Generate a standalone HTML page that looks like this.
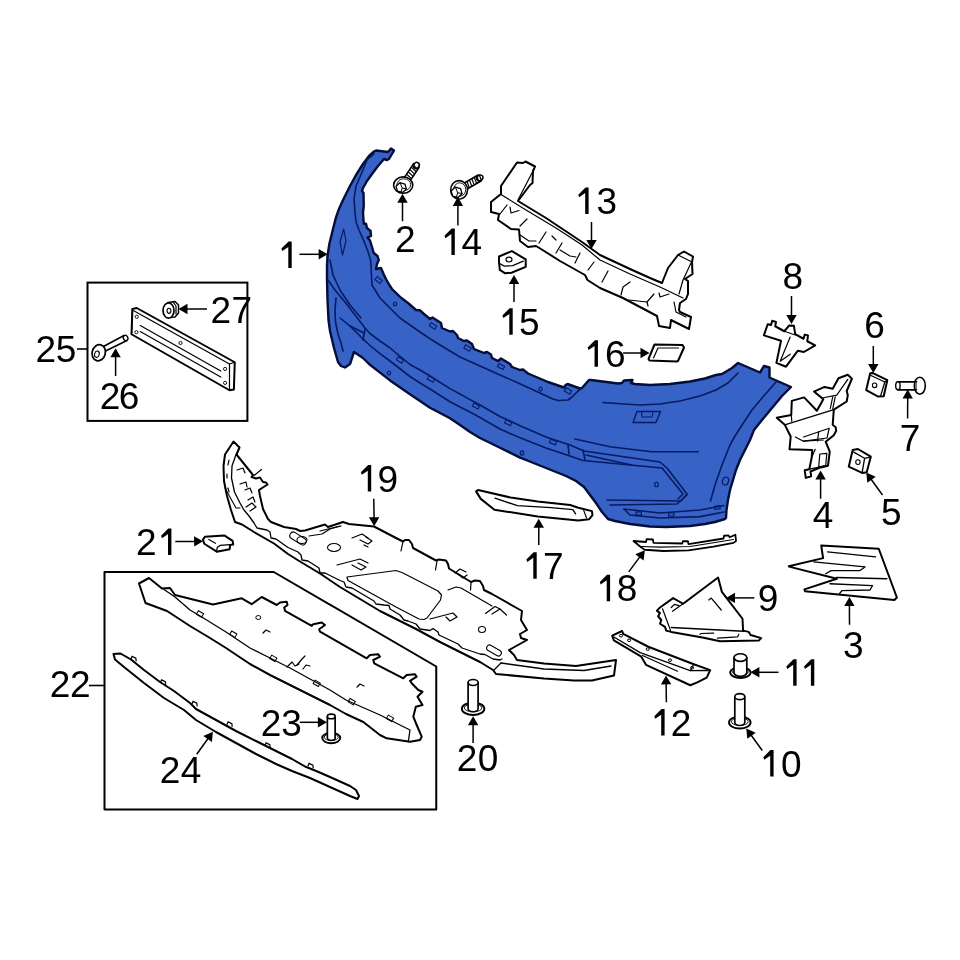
<!DOCTYPE html>
<html><head><meta charset="utf-8"><style>
html,body{margin:0;padding:0;background:#fff;}
svg{display:block;}
</style></head><body>
<svg width="960" height="960" viewBox="0 0 960 960">
<rect width="960" height="960" fill="#fff"/>
<polygon points="345,367.5 341,366 338,362 334,348 330,331 328.5,320 327.5,300 327,280 327,265 327.5,256 329.4,243.75 332.5,231 335.6,218.75 338.75,209.4 343,200 350,186 356,175 363,164 369,156 374,151.5 376,150.5 388,152 391,148.5 394,150.5 389,159 387,160 384,159 378,166 372,174 367,181 363,188 362,191 363.5,193 363.75,206 363,212.5 363.75,223.75 366,223.75 367,228 370.6,231 371,236 367.5,237.5 370,240.6 372,247 373.75,253 377.5,256 378.75,260 377,264 376,269 381,268 384,275 386.5,280 390,286 392,289 400,296.9 408,303 416,310 420,310.3 424,314 430,319 432.5,317.5 441,323 442,328 450,331.5 453,331 457,335 458,338 464,341 467,340.5 472,344 474,349 484,353 487,352 491,354.5 492,358 498,361 501,358.5 510,364 512,367 520,370 523,369.5 528,373.5 548,382 564,387.5 565.5,385 567.5,384 580,388.5 582,388 589,380 591,380 618,383.5 622,383 624,380.5 632.5,380 631,383 635,384 650,385 670,384 690,381.5 705,378.5 716,375 722,374 732,368 738,363 760,372.5 764,366 769.5,367.5 769.5,377.5 791,387 782,396 772,408 762,420 754,430 750,440 745,450 740,460 736,470 733,480 730,490 728,500 726.5,510 726,518 725,519 715,522 705,524 690,526 666,527 650,526.5 630,524 615,521 608,519 602,512 596,503 590,495 584,487 576,481 566,476 546,468 526,460 520,457.6 510,452.7 500,447.7 480,438 470,431.9 460,425 450,418.3 430,407.7 420,401 410,394.2 390,380.4 380,372.6 370,364.8 363,358 354,352 352,358 350,364" fill="#3762c6" stroke="#040e38" stroke-width="2.4" stroke-linejoin="round"/>
<polyline points="374,154 367,160 360,177 356,186 354,199 355,212.5 356,222 359.4,231 363.75,240.6 367.5,250 370.6,260 372,285 380,298 390,308 400,318 420,332 430,338.75 440,345 450,351 460,357 480,366 500,375 516,382 528,387.5 553,399 558,400.5 568,400 572,397 578,391 582,388" fill="none" stroke="#081b62" stroke-width="1.6" stroke-linejoin="round" stroke-linecap="round" />
<polyline points="330,260 333,275 340,290 350,305 361,318" fill="none" stroke="#081b62" stroke-width="1.6" stroke-linejoin="round" stroke-linecap="round" />
<polyline points="328,280 335,290 345,302 355,315 365,328 370,333.5 380,341 390,348 410,364.5 420,370 430,376 450,388.6 460,394 470,399.6 480,405 500,416.5 510,421 520,425.8 546,437 570,445 584,451 660,462 667,468 687,494 681,501 607,500" fill="none" stroke="#081b62" stroke-width="1.6" stroke-linejoin="round" stroke-linecap="round" />
<polyline points="336,298 335,310 335.5,322 338,334 341,343 343,351" fill="none" stroke="#081b62" stroke-width="1.6" stroke-linejoin="round" stroke-linecap="round" />
<polyline points="340,318 350,326 363,339 370,345.5 380,353.6 390,361 410,376.5 420,383 430,389 450,401.7 460,407 470,412 480,417.5 500,429 510,433.4 520,437.8 546,448 570,456 583,460.5 630,465 662,468 683,494 678,499" fill="none" stroke="#081b62" stroke-width="1.6" stroke-linejoin="round" stroke-linecap="round" />
<polyline points="350,326 364,333" fill="none" stroke="#081b62" stroke-width="1.6" stroke-linejoin="round" stroke-linecap="round" />
<polyline points="365,329 363,340" fill="none" stroke="#081b62" stroke-width="1.6" stroke-linejoin="round" stroke-linecap="round" />
<polyline points="575,439 602,445 610,446.7 651.7,451.7 698.3,451.7" fill="none" stroke="#081b62" stroke-width="1.6" stroke-linejoin="round" stroke-linecap="round" />
<polyline points="568,445 569,454" fill="none" stroke="#081b62" stroke-width="1.6" stroke-linejoin="round" stroke-linecap="round" />
<polyline points="583,450 585,460" fill="none" stroke="#081b62" stroke-width="1.6" stroke-linejoin="round" stroke-linecap="round" />
<polyline points="586,455 631.7,465" fill="none" stroke="#081b62" stroke-width="1.6" stroke-linejoin="round" stroke-linecap="round" />
<polyline points="603,402.5 624,404 640,405 660,404 680,401 700,396 716,390 728,383 738,373" fill="none" stroke="#081b62" stroke-width="1.6" stroke-linejoin="round" stroke-linecap="round" />
<polyline points="776,382 762,398 752,410 742,425 735,436 730,445 722,465 715,485 710.5,501" fill="none" stroke="#081b62" stroke-width="1.6" stroke-linejoin="round" stroke-linecap="round" />
<polyline points="610,505 677,504 687,495" fill="none" stroke="#081b62" stroke-width="1.6" stroke-linejoin="round" stroke-linecap="round" />
<polyline points="624,509 660,513 700,510 724,505.5" fill="none" stroke="#081b62" stroke-width="1.6" stroke-linejoin="round" stroke-linecap="round" />
<polyline points="624,509 630,515 660,518 700,516.6 724,512" fill="none" stroke="#081b62" stroke-width="1.6" stroke-linejoin="round" stroke-linecap="round" />
<rect x="636.15" y="511.9" width="5.2" height="3.2" transform="rotate(0 638.75 513.5)" fill="none" stroke="#081b62" stroke-width="1.2"/>
<rect x="668.65" y="512.9" width="5.2" height="3.2" transform="rotate(0 671.25 514.5)" fill="none" stroke="#081b62" stroke-width="1.2"/>
<rect x="714.9" y="505.9" width="5.2" height="3.2" transform="rotate(-8 717.5 507.5)" fill="none" stroke="#081b62" stroke-width="1.2"/>
<polygon points="343.7,229 346,241 342.5,255 340,242" fill="none" stroke="#081b62" stroke-width="1.2" stroke-linejoin="round" />
<polygon points="637,411.5 660.5,411.5 656,422.5 633,422.5" fill="none" stroke="#081b62" stroke-width="1.4" stroke-linejoin="round" />
<polyline points="641.5,412 642,417 652,417 653,412" fill="none" stroke="#081b62" stroke-width="1.1" stroke-linejoin="round" stroke-linecap="round" />
<ellipse cx="395" cy="304" rx="1.6" ry="2.0" fill="none" stroke="#081b62" stroke-width="1.2"/>
<ellipse cx="540.5" cy="389" rx="1.6" ry="2.0" fill="none" stroke="#081b62" stroke-width="1.2"/>
<ellipse cx="389" cy="373" rx="1.6" ry="2.0" fill="none" stroke="#081b62" stroke-width="1.2"/>
<ellipse cx="522" cy="453" rx="1.7" ry="2.125" fill="none" stroke="#081b62" stroke-width="1.2"/>
<ellipse cx="656.5" cy="484.5" rx="1.8" ry="2.25" fill="none" stroke="#081b62" stroke-width="1.2"/>
<ellipse cx="725.5" cy="481" rx="3" ry="4" transform="rotate(15 725.5 481)" fill="none" stroke="#081b62" stroke-width="1.2"/>
<rect x="375.3" y="278.2" width="6.4" height="3.6" transform="rotate(40 378.5 280)" fill="none" stroke="#081b62" stroke-width="1.1"/>
<rect x="429.8" y="324.2" width="6.4" height="3.6" transform="rotate(32 433 326)" fill="none" stroke="#081b62" stroke-width="1.1"/>
<rect x="464.3" y="346.2" width="6.4" height="3.6" transform="rotate(30 467.5 348)" fill="none" stroke="#081b62" stroke-width="1.1"/>
<rect x="497.8" y="364.7" width="6.4" height="3.6" transform="rotate(28 501 366.5)" fill="none" stroke="#081b62" stroke-width="1.1"/>
<rect x="564.8" y="389.2" width="6.4" height="3.6" transform="rotate(30 568 391)" fill="none" stroke="#081b62" stroke-width="1.1"/>
<rect x="396.8" y="358.2" width="6.4" height="3.6" transform="rotate(32 400 360)" fill="none" stroke="#081b62" stroke-width="1.1"/>
<rect x="427.8" y="377.2" width="6.4" height="3.6" transform="rotate(30 431 379)" fill="none" stroke="#081b62" stroke-width="1.1"/>
<rect x="472.8" y="404.2" width="6.4" height="3.6" transform="rotate(28 476 406)" fill="none" stroke="#081b62" stroke-width="1.1"/>
<rect x="505.1" y="420.9" width="6.4" height="3.6" transform="rotate(25 508.3 422.7)" fill="none" stroke="#081b62" stroke-width="1.1"/>
<rect x="549.8" y="440.2" width="6.4" height="3.6" transform="rotate(20 553 442)" fill="none" stroke="#081b62" stroke-width="1.1"/>
<polygon points="501,186 517,162.5 523,163 525.5,161.5 535,166.5 533,171 532.5,183 530,185 518,201 546,218 582,242 600,255 630,269 650,278 662,283 668,268 678,255 684,251.5 693,256.5 692,262 692.5,274 685,279 688,281 688,294 686,299 680,303 679,310 680,312 691,317 689,329 671,320 670,328 659,326 657,316 623,298 600,288 587.5,280 585,275 560,261 541,249 536,246 528,247 520,241 519,229.5 511,229 498,220 499,214 491,212 491,202 501,194" fill="#fff" stroke="#000" stroke-width="2.0" stroke-linejoin="round" />
<polyline points="501,194.5 526,210 556,228 582,245 600,260 630,274 660,287 683,298" fill="none" stroke="#000" stroke-width="1.2" stroke-linejoin="round" stroke-linecap="round" />
<polyline points="534,169 518,200" fill="none" stroke="#000" stroke-width="1.2" stroke-linejoin="round" stroke-linecap="round" />
<polyline points="678,255 692,262" fill="none" stroke="#000" stroke-width="1.2" stroke-linejoin="round" stroke-linecap="round" />
<polyline points="691,263 683,280 679,294" fill="none" stroke="#000" stroke-width="1.2" stroke-linejoin="round" stroke-linecap="round" />
<polyline points="500,214 507,205" fill="none" stroke="#000" stroke-width="1.2" stroke-linejoin="round" stroke-linecap="round" />
<polyline points="510,207 511,213 519,210.5" fill="none" stroke="#000" stroke-width="1.2" stroke-linejoin="round" stroke-linecap="round" />
<polyline points="520,226 527,219" fill="none" stroke="#000" stroke-width="1.2" stroke-linejoin="round" stroke-linecap="round" />
<polyline points="539,243 546,232" fill="none" stroke="#000" stroke-width="1.2" stroke-linejoin="round" stroke-linecap="round" />
<polyline points="520,235 529,241 536,241" fill="none" stroke="#000" stroke-width="1.2" stroke-linejoin="round" stroke-linecap="round" />
<polyline points="602,282 608,271" fill="none" stroke="#000" stroke-width="1.2" stroke-linejoin="round" stroke-linecap="round" />
<polyline points="621,295 623,287 630,282" fill="none" stroke="#000" stroke-width="1.2" stroke-linejoin="round" stroke-linecap="round" />
<polyline points="629,300 647,302 648,306" fill="none" stroke="#000" stroke-width="1.2" stroke-linejoin="round" stroke-linecap="round" />
<polyline points="647,302 654,294" fill="none" stroke="#000" stroke-width="1.2" stroke-linejoin="round" stroke-linecap="round" />
<polyline points="659,293 660,297 669,294" fill="none" stroke="#000" stroke-width="1.2" stroke-linejoin="round" stroke-linecap="round" />
<polyline points="674,302 676,312 686,317" fill="none" stroke="#000" stroke-width="1.2" stroke-linejoin="round" stroke-linecap="round" />
<polyline points="556,253 562,243" fill="none" stroke="#000" stroke-width="1.2" stroke-linejoin="round" stroke-linecap="round" />
<polyline points="575,263 580,253" fill="none" stroke="#000" stroke-width="1.2" stroke-linejoin="round" stroke-linecap="round" />
<polyline points="560,250 570,256 576,257" fill="none" stroke="#000" stroke-width="1.2" stroke-linejoin="round" stroke-linecap="round" />
<polyline points="588,270 594,262" fill="none" stroke="#000" stroke-width="1.2" stroke-linejoin="round" stroke-linecap="round" />
<polyline points="552,236 556,240" fill="none" stroke="#000" stroke-width="1.2" stroke-linejoin="round" stroke-linecap="round" />
<polygon points="499,256.5 511.9,251.1 525.7,259.4 525.7,266.9 511.5,272.75 504.8,273.2 499.8,269.8 499,261.5" fill="#fff" stroke="#000" stroke-width="2.0" stroke-linejoin="round" />
<polyline points="499,263.2 504.4,266.1 512.75,265.7 523.2,261.1" fill="none" stroke="#000" stroke-width="1.3" stroke-linejoin="round" stroke-linecap="round" />
<ellipse cx="509" cy="259.6" rx="3" ry="2.4" fill="none" stroke="#000" stroke-width="1.2"/>
<polygon points="654.5,344.5 682.5,345 684,347.5 678,361 676.5,361.5 649.5,360.5 648.5,359" fill="#fff" stroke="#000" stroke-width="2.0" stroke-linejoin="round" />
<polyline points="653.5,358 658,348 678.5,348" fill="none" stroke="#000" stroke-width="1.2" stroke-linejoin="round" stroke-linecap="round" />
<polygon points="408.73,182.796 419.137,167.343 413.663,163.657 403.256,179.109" fill="#fff" stroke="#000" stroke-width="1.6" stroke-linejoin="round" />
<ellipse cx="416.40" cy="165.50" rx="3.30" ry="2.64" transform="rotate(-56.0 416.40 165.50)" fill="#fff" stroke="#000" stroke-width="1.5"/>
<polyline points="411.249,178.465 406.881,174.317" fill="none" stroke="#000" stroke-width="1.2" stroke-linejoin="round" stroke-linecap="round" />
<polyline points="412.814,176.142 408.445,171.995" fill="none" stroke="#000" stroke-width="1.2" stroke-linejoin="round" stroke-linecap="round" />
<polyline points="414.378,173.82 410.009,169.672" fill="none" stroke="#000" stroke-width="1.2" stroke-linejoin="round" stroke-linecap="round" />
<polyline points="415.942,171.497 411.573,167.35" fill="none" stroke="#000" stroke-width="1.2" stroke-linejoin="round" stroke-linecap="round" />
<polyline points="417.506,169.175 413.138,165.027" fill="none" stroke="#000" stroke-width="1.2" stroke-linejoin="round" stroke-linecap="round" />
<ellipse cx="403.2" cy="185.1" rx="9.6" ry="8.2" fill="#fff" stroke="#000" stroke-width="1.6"/>
<ellipse cx="403.8" cy="184.7" rx="6.912" ry="5.903999999999999" fill="none" stroke="#000" stroke-width="0.9"/>
<polygon points="406.319,188.903 402.572,192.463 397.452,191.16 396.081,186.297 399.828,182.737 404.948,184.04" fill="#fff" stroke="#000" stroke-width="1.3" stroke-linejoin="round" />
<polyline points="400.14,182.83 402.26,188.13 406.235,188.66" fill="none" stroke="#000" stroke-width="1.0" stroke-linejoin="round" stroke-linecap="round" />
<polyline points="402.26,188.13 400.67,192.635" fill="none" stroke="#000" stroke-width="1.0" stroke-linejoin="round" stroke-linecap="round" />
<polygon points="465.081,190.241 481.408,180.753 478.092,175.047 461.765,184.535" fill="#fff" stroke="#000" stroke-width="1.6" stroke-linejoin="round" />
<ellipse cx="479.75" cy="177.90" rx="3.30" ry="2.64" transform="rotate(-30.2 479.75 177.90)" fill="#fff" stroke="#000" stroke-width="1.5"/>
<polyline points="469.238,187.444 467.118,181.805" fill="none" stroke="#000" stroke-width="1.2" stroke-linejoin="round" stroke-linecap="round" />
<polyline points="471.659,186.037 469.539,180.398" fill="none" stroke="#000" stroke-width="1.2" stroke-linejoin="round" stroke-linecap="round" />
<polyline points="474.08,184.63 471.96,178.992" fill="none" stroke="#000" stroke-width="1.2" stroke-linejoin="round" stroke-linecap="round" />
<polyline points="476.501,183.223 474.381,177.585" fill="none" stroke="#000" stroke-width="1.2" stroke-linejoin="round" stroke-linecap="round" />
<polyline points="478.922,181.816 476.802,176.178" fill="none" stroke="#000" stroke-width="1.2" stroke-linejoin="round" stroke-linecap="round" />
<polyline points="481.343,180.409 479.223,174.771" fill="none" stroke="#000" stroke-width="1.2" stroke-linejoin="round" stroke-linecap="round" />
<ellipse cx="459.1" cy="189.9" rx="8.4" ry="9.3" fill="#fff" stroke="#000" stroke-width="1.6"/>
<ellipse cx="459.70000000000005" cy="189.5" rx="6.048" ry="6.696000000000001" fill="none" stroke="#000" stroke-width="0.9"/>
<polygon points="462.009,193.677 458.049,197.439 452.64,196.062 451.191,190.923 455.151,187.161 460.56,188.538" fill="#fff" stroke="#000" stroke-width="1.3" stroke-linejoin="round" />
<polyline points="455.48,187.26 457.72,192.86 461.92,193.42" fill="none" stroke="#000" stroke-width="1.0" stroke-linejoin="round" stroke-linecap="round" />
<polyline points="457.72,192.86 456.04,197.62" fill="none" stroke="#000" stroke-width="1.0" stroke-linejoin="round" stroke-linecap="round" />
<polygon points="763.9,335.4 767.7,324.2 771,325 772.25,320.8 776,322 775.2,326.25 784.3,331.25 789.3,325.4 793.9,325.8 795.2,334.2 803.5,338.75 804.75,334.6 808,335.4 807.25,341.25 815.2,345.4 803.9,352 797.7,350.8 786,366.7 776.4,362.9 781,340.8" fill="#fff" stroke="#000" stroke-width="2.0" stroke-linejoin="round" />
<polyline points="784.3,331.25 795.2,335" fill="none" stroke="#000" stroke-width="1.2" stroke-linejoin="round" stroke-linecap="round" />
<polyline points="790.2,337 780.2,361.25 790.2,354.2" fill="none" stroke="#000" stroke-width="1.2" stroke-linejoin="round" stroke-linecap="round" />
<polygon points="870.2,373.3 872.4,372.9 887.3,380.2 883.7,396.3 878.2,396.6 866.2,390.1" fill="#fff" stroke="#000" stroke-width="2.0" stroke-linejoin="round" />
<polyline points="871,375.5 884.8,382 887.3,380.2" fill="none" stroke="#000" stroke-width="1.3" stroke-linejoin="round" stroke-linecap="round" />
<polyline points="884.8,382 880.5,396.4" fill="none" stroke="#000" stroke-width="1.3" stroke-linejoin="round" stroke-linecap="round" />
<ellipse cx="874.6" cy="385.3" rx="2.2" ry="2.3" fill="none" stroke="#000" stroke-width="1.1"/>
<polygon points="852.7,450 857.9,449 870.8,456.7 866.7,472.3 862.1,472.9 848.75,466.7" fill="#fff" stroke="#000" stroke-width="2.0" stroke-linejoin="round" />
<polyline points="853.75,452.1 864.6,458.3 870.4,457.1" fill="none" stroke="#000" stroke-width="1.3" stroke-linejoin="round" stroke-linecap="round" />
<polyline points="864.6,458.3 862.3,471.7" fill="none" stroke="#000" stroke-width="1.3" stroke-linejoin="round" stroke-linecap="round" />
<ellipse cx="857.9" cy="462.1" rx="2.2" ry="2.4" fill="none" stroke="#000" stroke-width="1.1"/>
<path d="M897.9,381.7 L917,381.7 L917,389.7 L897.9,389.7" fill="#fff" stroke="#000" stroke-width="1.5"/>
<ellipse cx="919.8" cy="385.7" rx="5.5" ry="8.5" fill="#fff" stroke="#000" stroke-width="1.6"/>
<path d="M915.8,381.7 L917.5,381.7 L917.5,389.7 L915.8,389.7 Z" fill="#fff" stroke="none"/>
<polyline points="897.9,381.7 916.5,381.7" fill="none" stroke="#000" stroke-width="1.5" stroke-linejoin="round" stroke-linecap="round" />
<polyline points="897.9,389.7 916.5,389.7" fill="none" stroke="#000" stroke-width="1.5" stroke-linejoin="round" stroke-linecap="round" />
<polyline points="916,381.5 916,390" fill="none" stroke="#000" stroke-width="1.0" stroke-linejoin="round" stroke-linecap="round" />
<ellipse cx="897.9" cy="385.7" rx="2.2" ry="4" fill="#fff" stroke="#000" stroke-width="1.4"/>
<polygon points="776.7,417.8 791.25,414.9 791.8,400.9 804.1,397.4 816.9,410.8 823.3,399.2 814,391.6 824.5,386.9 832.7,388.7 838.5,378.2 847.8,374.7 851.9,378.75 846.7,391 847.8,395.1 846.7,401.5 833.8,409.7 832.7,424.8 835.6,427.2 836.2,430.7 833.8,435.3 825.7,441.75 829.75,451.7 828,465.7 818.7,468 810.5,471.5 811.1,476.2 805.8,477.9 804.7,470.3 809.3,469.2 811.7,457.5 812.25,449.9 789.5,449.3 790.7,436.5 784.8,424.8" fill="#fff" stroke="#000" stroke-width="2.0" stroke-linejoin="round" />
<polyline points="784.8,424.8 833.8,409.7" fill="none" stroke="#000" stroke-width="1.3" stroke-linejoin="round" stroke-linecap="round" />
<polyline points="791.25,414.9 791.8,421.3" fill="none" stroke="#000" stroke-width="1.2" stroke-linejoin="round" stroke-linecap="round" />
<polyline points="814,391.6 822.2,398 836.75,395.1 847.8,379.3" fill="none" stroke="#000" stroke-width="1.2" stroke-linejoin="round" stroke-linecap="round" />
<polyline points="830.3,408.5 832.7,396.8" fill="none" stroke="#000" stroke-width="1.2" stroke-linejoin="round" stroke-linecap="round" />
<polyline points="832.7,409 835.2,396.8" fill="none" stroke="#000" stroke-width="1.2" stroke-linejoin="round" stroke-linecap="round" />
<polyline points="795.3,437 803.5,441.2 823.3,440" fill="none" stroke="#000" stroke-width="1.2" stroke-linejoin="round" stroke-linecap="round" />
<polyline points="803.5,437 829.2,428.3 827,438 803.5,441.2" fill="none" stroke="#000" stroke-width="1.2" stroke-linejoin="round" stroke-linecap="round" />
<polyline points="818.7,431.8 817.5,441.2" fill="none" stroke="#000" stroke-width="1.2" stroke-linejoin="round" stroke-linecap="round" />
<polyline points="815.2,449.3 811.7,457.5" fill="none" stroke="#000" stroke-width="1.2" stroke-linejoin="round" stroke-linecap="round" />
<polyline points="819.8,454 826.8,453.4 825.7,465.7 818.7,466.8 819.8,454" fill="none" stroke="#000" stroke-width="1.2" stroke-linejoin="round" stroke-linecap="round" />
<polyline points="809.3,469.2 826.8,465.7" fill="none" stroke="#000" stroke-width="1.2" stroke-linejoin="round" stroke-linecap="round" />
<polygon points="821.25,545.6 878.75,548.75 896.9,597.5 894.4,600 805,591.25 804.4,589.4 836.9,578.75 790,566.9 788.75,566.25 823.1,558.1" fill="#fff" stroke="#000" stroke-width="2.0" stroke-linejoin="round" />
<polyline points="827.5,551.9 875.6,556.9" fill="none" stroke="#000" stroke-width="1.3" stroke-linejoin="round" stroke-linecap="round" />
<polyline points="813.75,561.9 865,566.9 860,570.6 831.25,570.6 825.6,573.75" fill="none" stroke="#000" stroke-width="1.3" stroke-linejoin="round" stroke-linecap="round" />
<polyline points="836.25,577.5 886.9,578.75" fill="none" stroke="#000" stroke-width="1.3" stroke-linejoin="round" stroke-linecap="round" />
<polyline points="830,583.75 872.5,585.6 870,590 841.9,590.6 839.4,593.75" fill="none" stroke="#000" stroke-width="1.3" stroke-linejoin="round" stroke-linecap="round" />
<polygon points="633.5,541 646,542 646.6,539.1 652.9,539.5 653.5,542.9 682.25,543.5 682.9,541.25 687.9,541.25 688.5,544.1 723.5,538.5 724.1,535.75 728.5,535.4 729.75,537.25 735.4,534.75 736,541 733.5,542.9 713.5,546.6 688.5,550.4 663.5,551 644.75,549.75 641,547.25" fill="#fff" stroke="#000" stroke-width="1.8" stroke-linejoin="round" />
<polyline points="641,546.5 660,547.2 690,546.5 715,542.5 733.5,539.5" fill="none" stroke="#000" stroke-width="1.2" stroke-linejoin="round" stroke-linecap="round" />
<polygon points="656.9,610.6 660,607.5 673.1,598.1 683.1,603.75 718.1,577.5 721.9,591.9 742.5,618.75 743.1,630.6 748.75,631.9 750.6,635 761.25,638.1 758.75,640.6 720,641.25 702.5,637.5 671.25,631.9 666.25,630.6 665,626.9 660,623.75 661.25,620 658.1,616.25 660,613.1" fill="#fff" stroke="#000" stroke-width="2.0" stroke-linejoin="round" />
<polyline points="662.5,608.75 670.6,630.6" fill="none" stroke="#000" stroke-width="1.2" stroke-linejoin="round" stroke-linecap="round" />
<polyline points="671.25,627.5 743.75,631.25" fill="none" stroke="#000" stroke-width="1.3" stroke-linejoin="round" stroke-linecap="round" />
<polyline points="672.5,611.25 683.1,603.75" fill="none" stroke="#000" stroke-width="1.2" stroke-linejoin="round" stroke-linecap="round" />
<polyline points="671.25,607.5 674.4,604.4 678.75,605.6" fill="none" stroke="#000" stroke-width="1.2" stroke-linejoin="round" stroke-linecap="round" />
<polyline points="708.75,600 711.25,598.1 721.25,610" fill="none" stroke="#000" stroke-width="1.2" stroke-linejoin="round" stroke-linecap="round" />
<polyline points="700,634.4 701,633.5 713.75,633.1" fill="none" stroke="#000" stroke-width="1.2" stroke-linejoin="round" stroke-linecap="round" />
<polyline points="717.5,638.1 737.5,636.9 738.75,634.4" fill="none" stroke="#000" stroke-width="1.2" stroke-linejoin="round" stroke-linecap="round" />
<polygon points="612.2,635.7 622.1,631 623.25,633.9 648.3,646.75 693.8,664.25 710.2,670.1 706.7,677.7 697.3,682.3 690.3,685.25 646,664.8 641.3,656.7 613.9,640.3" fill="#fff" stroke="#000" stroke-width="2.0" stroke-linejoin="round" />
<polyline points="613.9,637 640.2,652.6 690.3,670.7 708,670.5" fill="none" stroke="#000" stroke-width="1.3" stroke-linejoin="round" stroke-linecap="round" />
<polyline points="642.5,655.5 677.5,671.25" fill="none" stroke="#000" stroke-width="1.2" stroke-linejoin="round" stroke-linecap="round" />
<polyline points="690.3,670.7 693.8,664.25" fill="none" stroke="#000" stroke-width="1.2" stroke-linejoin="round" stroke-linecap="round" />
<ellipse cx="621" cy="635.7" rx="1.6" ry="1.3" fill="none" stroke="#000" stroke-width="1"/>
<ellipse cx="629.1" cy="640.3" rx="1.6" ry="1.3" fill="none" stroke="#000" stroke-width="1"/>
<ellipse cx="647.75" cy="649.1" rx="1.6" ry="1.3" fill="none" stroke="#000" stroke-width="1"/>
<ellipse cx="670" cy="660.2" rx="1.6" ry="1.3" fill="none" stroke="#000" stroke-width="1"/>
<ellipse cx="692.1" cy="667.75" rx="1.6" ry="1.3" fill="none" stroke="#000" stroke-width="1"/>
<polygon points="476.1,491.4 478.1,490.1 510.6,497.5 537.7,501.6 570.2,505 578.3,507.7 591.9,511.1 592.5,515.1 589.2,519.2 578.3,520.6 537.7,516.5 494.4,509.7 480.8,498.9" fill="#fff" stroke="#000" stroke-width="2.0" stroke-linejoin="round" />
<polyline points="495,498.2 517.4,505.7 551.2,507.7 572.9,509.7 575.6,513.8" fill="none" stroke="#000" stroke-width="1.3" stroke-linejoin="round" stroke-linecap="round" />
<polyline points="583.7,510.4 586.5,517.9" fill="none" stroke="#000" stroke-width="1.2" stroke-linejoin="round" stroke-linecap="round" />
<ellipse cx="740.4" cy="672.6" rx="10.2" ry="5.4" fill="#fff" stroke="#000" stroke-width="1.9"/>
<ellipse cx="740.4" cy="671.8000000000001" rx="7.9559999999999995" ry="3.3480000000000003" fill="none" stroke="#000" stroke-width="0.9"/>
<path d="M734.0,657.6 L734.0,672.6 A6.4,3.84 0 0 0 746.8,672.6 L746.8,657.6" fill="#fff" stroke="#000" stroke-width="1.7"/>
<ellipse cx="740.4" cy="657.6" rx="6.4" ry="3.84" fill="#fff" stroke="#000" stroke-width="1.7"/>
<ellipse cx="739.8" cy="722.5" rx="10.8" ry="6" fill="#fff" stroke="#000" stroke-width="1.9"/>
<ellipse cx="739.8" cy="721.7" rx="8.424000000000001" ry="3.7199999999999998" fill="none" stroke="#000" stroke-width="0.9"/>
<path d="M734.8,696.7 L734.8,722.5 A5,3.0 0 0 0 744.8,722.5 L744.8,696.7" fill="#fff" stroke="#000" stroke-width="1.7"/>
<ellipse cx="739.8" cy="696.7" rx="5" ry="3.0" fill="#fff" stroke="#000" stroke-width="1.7"/>
<ellipse cx="473.1" cy="708.75" rx="11.25" ry="6.25" fill="#fff" stroke="#000" stroke-width="1.9"/>
<ellipse cx="473.1" cy="707.95" rx="8.775" ry="3.875" fill="none" stroke="#000" stroke-width="0.9"/>
<path d="M468.1,682.5 L468.1,708.75 A5,3.0 0 0 0 478.1,708.75 L478.1,682.5" fill="#fff" stroke="#000" stroke-width="1.7"/>
<ellipse cx="473.1" cy="682.5" rx="5" ry="3.0" fill="#fff" stroke="#000" stroke-width="1.7"/>
<ellipse cx="331.25" cy="738" rx="9" ry="5.25" fill="#fff" stroke="#000" stroke-width="1.9"/>
<ellipse cx="331.25" cy="737.2" rx="7.0200000000000005" ry="3.255" fill="none" stroke="#000" stroke-width="0.9"/>
<path d="M327.35,716.4 L327.35,738 A3.9,2.34 0 0 0 335.15,738 L335.15,716.4" fill="#fff" stroke="#000" stroke-width="1.7"/>
<ellipse cx="331.25" cy="716.4" rx="3.9" ry="2.34" fill="#fff" stroke="#000" stroke-width="1.7"/>
<polygon points="203,539.6 204.9,536.7 224.25,535.4 232.6,540.8 233.2,544.4 230.1,545 229.7,549.2 216.75,551.7 204.25,543.75" fill="#fff" stroke="#000" stroke-width="2.0" stroke-linejoin="round" />
<polyline points="208.8,539.4 215.5,543.3" fill="none" stroke="#000" stroke-width="1.2" stroke-linejoin="round" stroke-linecap="round" />
<polyline points="216.75,551.7 217.2,547.5 220,545.4 230.1,544.6" fill="none" stroke="#000" stroke-width="1.3" stroke-linejoin="round" stroke-linecap="round" />
<polygon points="132.4,308.9 136.75,308 234.75,362.25 233.9,389.4 229.5,390.25 131.5,334.25" fill="#fff" stroke="#000" stroke-width="2.0" stroke-linejoin="round" />
<polyline points="132.4,308.9 131.5,334.25" fill="none" stroke="#000" stroke-width="1.2" stroke-linejoin="round" stroke-linecap="round" />
<polyline points="229.5,364 229.5,390.25" fill="none" stroke="#000" stroke-width="1.2" stroke-linejoin="round" stroke-linecap="round" />
<polyline points="132.4,310 229.5,364 234.75,362.25" fill="none" stroke="#000" stroke-width="1.2" stroke-linejoin="round" stroke-linecap="round" />
<polyline points="140.25,325.5 220.75,371" fill="none" stroke="#000" stroke-width="1.2" stroke-linejoin="round" stroke-linecap="round" />
<polyline points="140.25,331.6 220.75,377.1" fill="none" stroke="#000" stroke-width="1.2" stroke-linejoin="round" stroke-linecap="round" />
<circle cx="136.75" cy="316.75" r="1.6" fill="none" stroke="#000" stroke-width="0.9"/>
<circle cx="136.4" cy="332.2" r="1.6" fill="none" stroke="#000" stroke-width="0.9"/>
<circle cx="180.5" cy="343" r="1.6" fill="none" stroke="#000" stroke-width="0.9"/>
<circle cx="225.1" cy="368.9" r="1.6" fill="none" stroke="#000" stroke-width="0.9"/>
<circle cx="225.1" cy="382.9" r="1.6" fill="none" stroke="#000" stroke-width="0.9"/>
<polygon points="102.5,347 124,335.5 127,340.5 104.5,351.5" fill="#fff" stroke="#000" stroke-width="1.6" stroke-linejoin="round" />
<ellipse cx="125.6" cy="338" rx="2.2" ry="2.7" transform="rotate(-30 125.6 338)" fill="#fff" stroke="#000" stroke-width="1.4"/>
<ellipse cx="98.75" cy="352.75" rx="6.6" ry="8.2" transform="rotate(15 98.75 352.75)" fill="#fff" stroke="#000" stroke-width="1.7"/>
<ellipse cx="96.9" cy="354.2" rx="2.3" ry="3.2" transform="rotate(15 96.9 354.2)" fill="none" stroke="#000" stroke-width="1.1"/>
<path d="M168,302.5 L175,301.5 L178.5,305 L178.5,313 L175,317 L168,317.5 Z" fill="#fff" stroke="#000" stroke-width="1.5" stroke-linejoin="round"/>
<polyline points="173,302 176,306 176,314" fill="none" stroke="#000" stroke-width="1.2" stroke-linejoin="round" stroke-linecap="round" />
<ellipse cx="168.5" cy="310.5" rx="5.5" ry="7.6" fill="#fff" stroke="#000" stroke-width="1.7"/>
<ellipse cx="169" cy="310.8" rx="1.9" ry="2.6" fill="none" stroke="#000" stroke-width="1.1"/>
<polygon points="233.5,441.5 239.5,447.5 236.5,454.5 253,475 251.5,477 256,478.5 260,477.5 263,482 266,482.5 267.5,484.5 259,490 260,496 263,509 268,519 271,522 284,527 296,529 300,531 305,530.5 325,524.5 328,527 343,522 349,524 374,526.5 396,538 403,541.5 405,540 409,540 412,544 413,548 436,560.5 439,559.5 446,560.5 448,564 449,568.5 471,582 475,580.5 480,581 483,586 484,590 492,594 522,611 521,620 527,630 520,634 521,638 527,640 509,650 514,655 517,660 544,663.5 576,666 616,660 614,675.5 592,680.5 574,680.5 544,678.5 496,674 493,670 480,662 476,660 440,642 416,629 400,621 380,611 360,599 340,587 320,573.5 300,561.5 288,554 274,543.5 254,532 242,524.5 235,522 231,510 227,496 224,481 223.5,466 225,454.5" fill="#fff" stroke="#000" stroke-width="2.0" stroke-linejoin="round" />
<polyline points="236,454.5 232,466 231.5,478 234.5,492 240,503 244,510 249,516 254,523 257,528 267,530 270,532 271,538 276,539 288,547.5 298,552 301,555 302,560 308,561 319,568 320,573 325,573 340,580.5 344,582 346,587 352,588 374,601 376,604 384,605 389,605.5 390,609 400,615 404,620 408,621 416,624 420,629 430,630.5 433,628.5 438,632 439,635 458,644 462,648 474,652 480,654 485,654.5 493,659 500,660 502,659" fill="none" stroke="#000" stroke-width="1.3" stroke-linejoin="round" stroke-linecap="round" />
<polyline points="501,663 544,669 584,670.5 611,666" fill="none" stroke="#000" stroke-width="1.3" stroke-linejoin="round" stroke-linecap="round" />
<polyline points="501,663 494,670" fill="none" stroke="#000" stroke-width="1.2" stroke-linejoin="round" stroke-linecap="round" />
<polygon points="347,577 396,570.5 402,572.5 438,591 441.5,595 440.5,600 427,618 424,619.5 419,619 396,607 348,580.5" fill="none" stroke="#000" stroke-width="1.2" stroke-linejoin="round" />
<ellipse cx="334" cy="547.5" rx="6.5" ry="4" fill="none" stroke="#000" stroke-width="1.1"/>
<ellipse cx="302" cy="540" rx="5" ry="3.5" fill="none" stroke="#000" stroke-width="1.1"/>
<ellipse cx="482" cy="629.5" rx="3.5" ry="3" fill="none" stroke="#000" stroke-width="1.1"/>
<rect x="289" y="535" width="18" height="7" rx="3.5" transform="rotate(32 298 538.5)" fill="none" stroke="#000" stroke-width="1.1"/>
<rect x="486" y="647.5" width="16" height="6" rx="3" transform="rotate(30 494 650.5)" fill="none" stroke="#000" stroke-width="1.1"/>
<polyline points="337,565 360,559 368,563" fill="none" stroke="#000" stroke-width="1.2" stroke-linejoin="round" stroke-linecap="round" />
<polyline points="352,565 361,570 366,567 358,563" fill="none" stroke="#000" stroke-width="1.2" stroke-linejoin="round" stroke-linecap="round" />
<polyline points="320,531 340,526" fill="none" stroke="#000" stroke-width="1.2" stroke-linejoin="round" stroke-linecap="round" />
<polyline points="309,536 322,534 330,529 341,526" fill="none" stroke="#000" stroke-width="1.2" stroke-linejoin="round" stroke-linecap="round" />
<polyline points="352,538 362,534 368,538" fill="none" stroke="#000" stroke-width="1.2" stroke-linejoin="round" stroke-linecap="round" />
<polyline points="360,540 368,544 372,541 366,537" fill="none" stroke="#000" stroke-width="1.2" stroke-linejoin="round" stroke-linecap="round" />
<polyline points="364,545 368,547" fill="none" stroke="#000" stroke-width="1.2" stroke-linejoin="round" stroke-linecap="round" />
<polyline points="448,590 456,587 461,588 492,606" fill="none" stroke="#000" stroke-width="1.2" stroke-linejoin="round" stroke-linecap="round" />
<polyline points="430,619 453,613 457,617 450,621 446,617" fill="none" stroke="#000" stroke-width="1.2" stroke-linejoin="round" stroke-linecap="round" />
<polyline points="485.5,613.5 495,606.5 500,609 506.5,615" fill="none" stroke="#000" stroke-width="1.2" stroke-linejoin="round" stroke-linecap="round" />
<polyline points="492,614 500,609" fill="none" stroke="#000" stroke-width="1.2" stroke-linejoin="round" stroke-linecap="round" />
<polyline points="401,551 403,541.5" fill="none" stroke="#000" stroke-width="1.2" stroke-linejoin="round" stroke-linecap="round" />
<polyline points="435.5,570 437,561" fill="none" stroke="#000" stroke-width="1.2" stroke-linejoin="round" stroke-linecap="round" />
<polyline points="470.5,590 471,582.5" fill="none" stroke="#000" stroke-width="1.2" stroke-linejoin="round" stroke-linecap="round" />
<polyline points="455,573 460,569 466,572" fill="none" stroke="#000" stroke-width="1.2" stroke-linejoin="round" stroke-linecap="round" />
<polyline points="458,574 463,578 467,575" fill="none" stroke="#000" stroke-width="1.2" stroke-linejoin="round" stroke-linecap="round" />
<polyline points="237,470 243,468 245,473" fill="none" stroke="#000" stroke-width="1.2" stroke-linejoin="round" stroke-linecap="round" />
<polyline points="240,484 246,482 247,487" fill="none" stroke="#000" stroke-width="1.2" stroke-linejoin="round" stroke-linecap="round" />
<polyline points="245,490 250,488 252,493" fill="none" stroke="#000" stroke-width="1.2" stroke-linejoin="round" stroke-linecap="round" />
<polyline points="248,500 253,497 255,502" fill="none" stroke="#000" stroke-width="1.2" stroke-linejoin="round" stroke-linecap="round" />
<polyline points="229,460 228,465" fill="none" stroke="#000" stroke-width="1.2" stroke-linejoin="round" stroke-linecap="round" />
<polyline points="227,474 227,478" fill="none" stroke="#000" stroke-width="1.2" stroke-linejoin="round" stroke-linecap="round" />
<polyline points="228,488 229,492" fill="none" stroke="#000" stroke-width="1.2" stroke-linejoin="round" stroke-linecap="round" />
<polyline points="246,507 252,503 256,507 250,511" fill="none" stroke="#000" stroke-width="1.2" stroke-linejoin="round" stroke-linecap="round" />
<polyline points="254,475.5 261.5,469.5" fill="none" stroke="#000" stroke-width="1.3" stroke-linejoin="round" stroke-linecap="round" />
<polyline points="225,488 236,508 240,508" fill="none" stroke="#000" stroke-width="1.1" stroke-linejoin="round" stroke-linecap="round" />
<polygon points="139,583.5 149,578 162,588.5 170,588 175,595 213,604.5 241.7,598.3 251.7,604.2 261.7,597 276.7,605 280,602.5 286.7,601.7 287.5,605 284.2,607.5 285,610.8 311.7,625.8 313.3,624.2 321.7,622.5 325,625 319.2,629.2 320,631.7 366.7,658.3 370,655 378.3,654.2 380,656.7 373.3,660 374.2,663.3 403.3,678.3 406.7,675 415,674.2 416.7,676.7 410,680.8 411.7,683.3 418.3,690 422.5,691.7 417.5,696.7 422.5,705 415.8,706.7 413.3,716.7 416.7,725 421.7,736.7 420,740 410,741.7 386.7,738.3 380,735 363.3,722 346,714 330,705 310,695 290,685 270,675 250,664 226,648 210,638 190,626 167,611 145.5,603" fill="#fff" stroke="#000" stroke-width="2.0" stroke-linejoin="round" />
<polyline points="164,589.5 175,597 190,610 205,619 226,632 250,648 270,658 290,668 310,679 330,690 346,700 380,715 410,730 408.3,741.7" fill="none" stroke="#000" stroke-width="1.3" stroke-linejoin="round" stroke-linecap="round" />
<rect x="197" y="612" width="6" height="4" transform="rotate(30 200 614)" fill="none" stroke="#000" stroke-width="1"/>
<rect x="230.3" y="632.2" width="6" height="4" transform="rotate(30 233.3 634.2)" fill="none" stroke="#000" stroke-width="1"/>
<rect x="270.3" y="656.3" width="6" height="4" transform="rotate(30 273.3 658.3)" fill="none" stroke="#000" stroke-width="1"/>
<rect x="313.7" y="681.3" width="6" height="4" transform="rotate(30 316.7 683.3)" fill="none" stroke="#000" stroke-width="1"/>
<rect x="348.7" y="699.7" width="6" height="4" transform="rotate(30 351.7 701.7)" fill="none" stroke="#000" stroke-width="1"/>
<rect x="387" y="716.3" width="6" height="4" transform="rotate(30 390 718.3)" fill="none" stroke="#000" stroke-width="1"/>
<ellipse cx="258.3" cy="617.5" rx="2.5" ry="2" fill="none" stroke="#000" stroke-width="1"/>
<polyline points="263,633 266,630 270,632" fill="none" stroke="#000" stroke-width="1.2" stroke-linejoin="round" stroke-linecap="round" />
<polyline points="357,687 360,684 364,686" fill="none" stroke="#000" stroke-width="1.2" stroke-linejoin="round" stroke-linecap="round" />
<polyline points="297,665 302,659 305,656" fill="none" stroke="#000" stroke-width="1.2" stroke-linejoin="round" stroke-linecap="round" />
<polyline points="287,667 292,662 295,666 299,664" fill="none" stroke="#000" stroke-width="1.2" stroke-linejoin="round" stroke-linecap="round" />
<polyline points="303,669 306,665 310,666" fill="none" stroke="#000" stroke-width="1.2" stroke-linejoin="round" stroke-linecap="round" />
<polygon points="113.5,654 120.5,653.5 131,659.5 144,670 160,682 174,691 190,703 196,709 216,720 236,731 256,741 276,751 292,759 305,766.5 315,770.5 330,777 350,786 356,790 359,796 357.5,799 350,796 330,787 310,778 292,771 276,764 256,754 236,743 216,732 196,720 184,710 164,698 144,683 124,667 115,659.5" fill="#fff" stroke="#000" stroke-width="2.0" stroke-linejoin="round" />
<path d="M131,659.7 L131.8,656.7 L135.8,658.0 L136.6,661.1" fill="none" stroke="#000" stroke-width="1.2" transform="rotate(8 134 658.5)"/>
<path d="M160.5,683.2 L161.3,680.2 L165.3,681.5 L166.1,684.6" fill="none" stroke="#000" stroke-width="1.2" transform="rotate(8 163.5 682)"/>
<path d="M192,704.7 L192.8,701.7 L196.8,703.0 L197.6,706.1" fill="none" stroke="#000" stroke-width="1.2" transform="rotate(8 195 703.5)"/>
<path d="M227,725.2 L227.8,722.2 L231.8,723.5 L232.6,726.6" fill="none" stroke="#000" stroke-width="1.2" transform="rotate(8 230 724)"/>
<path d="M265,746.2 L265.8,743.2 L269.8,744.5 L270.6,747.6" fill="none" stroke="#000" stroke-width="1.2" transform="rotate(8 268 745)"/>
<path d="M308,766.7 L308.8,763.7 L312.8,765.0 L313.6,768.1" fill="none" stroke="#000" stroke-width="1.2" transform="rotate(8 311 765.5)"/>
<g font-family="Liberation Sans, sans-serif" font-size="37" fill="#000" style="will-change:transform">
<path d="M291.70,241.40 L291.70,267.90 L288.30,267.90 L288.30,247.00 L282.30,251.10 L281.40,248.60 L288.60,241.40 Z" fill="#000"/>
<text x="394.90" y="251.90">2</text>
<path d="M454.80,228.50 L454.80,255.00 L451.40,255.00 L451.40,234.10 L445.40,238.20 L444.50,235.70 L451.70,228.50 Z" fill="#000"/>
<text x="461.50" y="255.00">4</text>
<path d="M588.60,187.50 L588.60,214.00 L585.20,214.00 L585.20,193.10 L579.20,197.20 L578.30,194.70 L585.50,187.50 Z" fill="#000"/>
<text x="596.50" y="214.00">3</text>
<path d="M512.70,308.30 L512.70,334.80 L509.30,334.80 L509.30,313.90 L503.30,318.00 L502.40,315.50 L509.60,308.30 Z" fill="#000"/>
<text x="519.00" y="334.80">5</text>
<path d="M597.95,340.30 L597.95,366.80 L594.55,366.80 L594.55,345.90 L588.55,350.00 L587.65,347.50 L594.85,340.30 Z" fill="#000"/>
<text x="604.90" y="366.80">6</text>
<text x="782.40" y="289.10">8</text>
<text x="864.25" y="337.90">6</text>
<text x="899.80" y="451.40">7</text>
<text x="812.75" y="528.10">4</text>
<text x="881.10" y="525.00">5</text>
<text x="843.10" y="657.80">3</text>
<text x="757.75" y="610.80">9</text>
<path d="M796.60,659.25 L796.60,685.75 L793.20,685.75 L793.20,664.85 L787.20,668.95 L786.30,666.45 L793.50,659.25 Z" fill="#000"/>
<path d="M814.30,659.25 L814.30,685.75 L810.90,685.75 L810.90,664.85 L804.90,668.95 L804.00,666.45 L811.20,659.25 Z" fill="#000"/>
<path d="M664.60,709.10 L664.60,735.60 L661.20,735.60 L661.20,714.70 L655.20,718.80 L654.30,716.30 L661.50,709.10 Z" fill="#000"/>
<text x="670.70" y="735.60">2</text>
<path d="M773.60,750.10 L773.60,776.60 L770.20,776.60 L770.20,755.70 L764.20,759.80 L763.30,757.30 L770.50,750.10 Z" fill="#000"/>
<text x="781.00" y="776.60">0</text>
<path d="M610.10,574.75 L610.10,601.25 L606.70,601.25 L606.70,580.35 L600.70,584.45 L599.80,581.95 L607.00,574.75 Z" fill="#000"/>
<text x="616.75" y="601.25">8</text>
<path d="M536.70,552.25 L536.70,578.75 L533.30,578.75 L533.30,557.85 L527.30,561.95 L526.40,559.45 L533.60,552.25 Z" fill="#000"/>
<text x="543.00" y="578.75">7</text>
<path d="M371.20,465.10 L371.20,491.60 L367.80,491.60 L367.80,470.70 L361.80,474.80 L360.90,472.30 L368.10,465.10 Z" fill="#000"/>
<text x="377.40" y="491.60">9</text>
<text x="456.75" y="771.25">2</text>
<text x="477.75" y="771.25">0</text>
<text x="136.10" y="555.00">2</text>
<path d="M171.40,528.50 L171.40,555.00 L168.00,555.00 L168.00,534.10 L162.00,538.20 L161.10,535.70 L168.30,528.50 Z" fill="#000"/>
<text x="49.70" y="696.50">2</text>
<text x="70.10" y="696.50">2</text>
<text x="260.70" y="736.10">2</text>
<text x="281.30" y="736.10">3</text>
<text x="159.70" y="782.90">2</text>
<text x="180.70" y="782.90">4</text>
<text x="35.40" y="361.80">2</text>
<text x="55.80" y="361.80">5</text>
<text x="99.80" y="409.20">2</text>
<text x="118.70" y="409.20">6</text>
<text x="210.50" y="322.50">2</text>
<text x="231.50" y="322.50">7</text>
</g>
<line x1="299.4" y1="254.3" x2="319.6" y2="254.3" stroke="#000" stroke-width="1.5"/>
<polygon points="327.6,254.3 318.6,259.5 318.6,249.1" fill="#000"/>
<line x1="402.5" y1="221.25" x2="402.5" y2="201.8" stroke="#000" stroke-width="1.5"/>
<polygon points="402.5,193.75 407.7,202.8 397.3,202.8" fill="#000"/>
<line x1="457.9" y1="225.6" x2="457.9" y2="204.9" stroke="#000" stroke-width="1.5"/>
<polygon points="457.9,196.9 463.1,205.9 452.7,205.9" fill="#000"/>
<line x1="591.5" y1="222" x2="591.5" y2="241.0" stroke="#000" stroke-width="1.5"/>
<polygon points="591.5,249 586.3,240.0 596.7,240.0" fill="#000"/>
<line x1="514" y1="302" x2="514.0" y2="283.0" stroke="#000" stroke-width="1.5"/>
<polygon points="514,275 519.2,284.0 508.8,284.0" fill="#000"/>
<line x1="623.1" y1="353" x2="641.5" y2="353.0" stroke="#000" stroke-width="1.5"/>
<polygon points="649.5,353 640.5,358.2 640.5,347.8" fill="#000"/>
<line x1="791.5" y1="296" x2="791.5" y2="316.1" stroke="#000" stroke-width="1.5"/>
<polygon points="791.5,324.1 786.3,315.1 796.7,315.1" fill="#000"/>
<line x1="873.3" y1="346" x2="873.3" y2="365.0" stroke="#000" stroke-width="1.5"/>
<polygon points="873.3,373 868.1,364.0 878.5,364.0" fill="#000"/>
<line x1="907.6" y1="418.5" x2="907.7" y2="397.6" stroke="#000" stroke-width="1.5"/>
<polygon points="907.7,389.6 912.9,398.6 902.5,398.6" fill="#000"/>
<line x1="820.6" y1="498.75" x2="820.6" y2="478.6" stroke="#000" stroke-width="1.5"/>
<polygon points="820.6,470.6 825.8,479.6 815.4,479.6" fill="#000"/>
<line x1="882.5" y1="495" x2="870.9" y2="479.0" stroke="#000" stroke-width="1.5"/>
<polygon points="866.25,472.5 875.7,476.8 867.3,482.8" fill="#000"/>
<line x1="849.5" y1="624.7" x2="849.4" y2="604.9" stroke="#000" stroke-width="1.5"/>
<polygon points="849.4,596.9 854.6,605.9 844.2,605.9" fill="#000"/>
<line x1="754.3" y1="597.9" x2="734.0" y2="597.9" stroke="#000" stroke-width="1.5"/>
<polygon points="726,597.9 735.0,592.7 735.0,603.1" fill="#000"/>
<line x1="778.5" y1="672.3" x2="758.4" y2="672.3" stroke="#000" stroke-width="1.5"/>
<polygon points="750.4,672.3 759.4,667.1 759.4,677.5" fill="#000"/>
<line x1="762.25" y1="750.5" x2="751.0" y2="735.0" stroke="#000" stroke-width="1.5"/>
<polygon points="746.25,728.5 755.7,732.7 747.3,738.8" fill="#000"/>
<line x1="666.4" y1="702.2" x2="666.1" y2="683.4" stroke="#000" stroke-width="1.5"/>
<polygon points="666,675.4 671.3,684.3 660.9,684.5" fill="#000"/>
<line x1="473.1" y1="743.1" x2="473.1" y2="724.2" stroke="#000" stroke-width="1.5"/>
<polygon points="473.1,716.25 478.3,725.2 467.9,725.2" fill="#000"/>
<line x1="628.75" y1="571.9" x2="640.0" y2="556.6" stroke="#000" stroke-width="1.5"/>
<polygon points="644.8,550.2 643.6,560.5 635.3,554.3" fill="#000"/>
<line x1="538.75" y1="545" x2="538.8" y2="526.8" stroke="#000" stroke-width="1.5"/>
<polygon points="538.75,518.75 544.0,527.8 533.5,527.8" fill="#000"/>
<line x1="373.75" y1="498.8" x2="374.1" y2="518.3" stroke="#000" stroke-width="1.5"/>
<polygon points="374.2,526.25 368.9,517.3 379.3,517.2" fill="#000"/>
<line x1="175.3" y1="541.6" x2="195.1" y2="541.4" stroke="#000" stroke-width="1.5"/>
<polygon points="203.1,541.3 194.2,546.6 194.0,536.2" fill="#000"/>
<line x1="299.7" y1="722.3" x2="318.9" y2="722.3" stroke="#000" stroke-width="1.5"/>
<polygon points="326.9,722.3 317.9,727.5 317.9,717.1" fill="#000"/>
<line x1="196.7" y1="754.2" x2="208.2" y2="738.2" stroke="#000" stroke-width="1.5"/>
<polygon points="212.9,731.7 211.9,742.0 203.4,736.0" fill="#000"/>
<line x1="115.6" y1="376" x2="115.6" y2="356.2" stroke="#000" stroke-width="1.5"/>
<polygon points="115.6,348.2 120.8,357.2 110.4,357.2" fill="#000"/>
<line x1="207" y1="309" x2="186.5" y2="309.0" stroke="#000" stroke-width="1.5"/>
<polygon points="178.5,309 187.5,303.8 187.5,314.2" fill="#000"/>
<rect x="87.5" y="282.6" width="159.9" height="138.3" fill="none" stroke="#000" stroke-width="2"/>
<polygon points="104.5,572 273.75,572 436.25,666.5 436.25,809.5 104.5,809.5" fill="none" stroke="#000" stroke-width="2" stroke-linejoin="round" />
<line x1="77" y1="349" x2="87.5" y2="349" stroke="#000" stroke-width="1.6"/>
<line x1="89" y1="685.5" x2="104.5" y2="685.5" stroke="#000" stroke-width="1.6"/>
</svg>
</body></html>
